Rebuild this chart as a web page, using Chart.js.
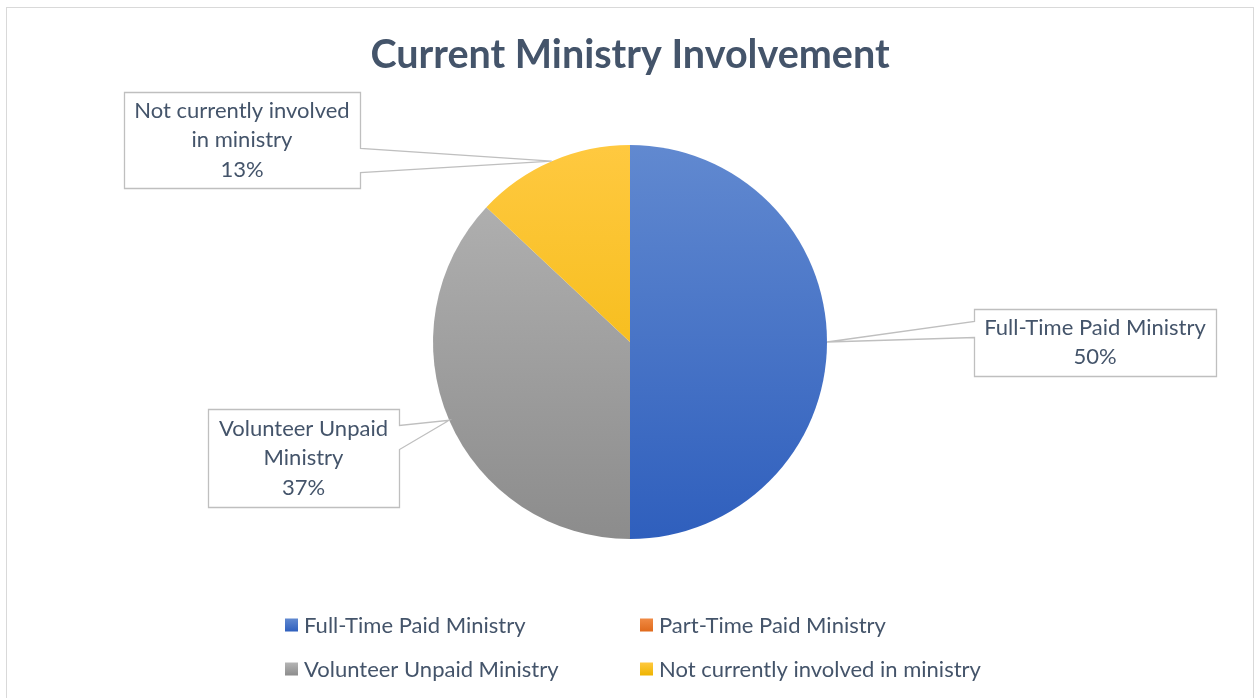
<!DOCTYPE html>
<html>
<head>
<meta charset="utf-8">
<script src="https://cdn.jsdelivr.net/npm/chart.js@4"></script>
<style>
    html, body { margin: 0; padding: 0; background: #fff; }
    canvas { display: block; }
</style>
</head>
<body>
<canvas id="ministryChart" width="1254" height="698"></canvas>
<script>
// Данные диаграммы
const categories = ['Full-Time Paid Ministry', 'Part-Time Paid Ministry', 'Volunteer Unpaid Ministry', 'Not currently involved in ministry'];
const shares = [50, 0, 37, 13];
// Переносы строк в выносках
const calloutLines = [['Full-Time Paid Ministry'], [], ['Volunteer Unpaid', 'Ministry'], ['Not currently involved', 'in ministry']];

// Цвета (верх / низ градиента)
const sliceColors = [
    ['#6189d0', '#2f5fbd'],
    ['#f08a44', '#e06a1c'],
    ['#b5b5b5', '#8c8c8c'],
    ['#ffc940', '#eeb400']
];
const textColor = '#44546A';
const fontFamily = 'Lato, "Open Sans", sans-serif';

// Положение выносок: рамка и точки выреза на стороне, обращённой к круговой
const calloutBoxes = [
    { x: 974, y: 309, w: 242, h: 67, side: 'left', y1: 321, y2: 337 },
    null,
    { x: 208, y: 409, w: 191, h: 98, side: 'right', y1: 425, y2: 449 },
    { x: 124, y: 92, w: 236, h: 96, side: 'right', y1: 148, y2: 172 }
];

function sliceGradient(ctx, index, top, bottom) {
    const g = ctx.createLinearGradient(0, top, 0, bottom);
    g.addColorStop(0, sliceColors[index][0]);
    g.addColorStop(1, sliceColors[index][1]);
    return g;
}

const framePlugin = {
    id: 'frame',
    beforeDraw(chart) {
        const ctx = chart.ctx;
        ctx.save();
        ctx.fillStyle = '#fff';
        ctx.fillRect(0, 0, chart.width, chart.height);
        ctx.strokeStyle = '#d9d9d9';
        ctx.lineWidth = 1;
        ctx.strokeRect(6.5, 7.5, 1247, 700);
        ctx.restore();
    }
};

const calloutPlugin = {
    id: 'callouts',
    afterDatasetsDraw(chart) {
        const ctx = chart.ctx;
        const meta = chart.getDatasetMeta(0);
        const total = shares.reduce((a, b) => a + b, 0);
        ctx.save();
        meta.data.forEach(function(arc, i) {
            const box = calloutBoxes[i];
            if (!box || !shares[i]) return;
            const p = arc.getProps(['x', 'y', 'startAngle', 'endAngle', 'outerRadius'], true);
            const mid = (p.startAngle + p.endAngle) / 2;
            const ax = p.x + Math.cos(mid) * p.outerRadius;
            const ay = p.y + Math.sin(mid) * p.outerRadius;
            const L = box.x + 0.5, T = box.y + 0.5, R = box.x + box.w + 0.5, B = box.y + box.h + 0.5;

            ctx.beginPath();
            if (box.side === 'right') {
                ctx.moveTo(L, T);
                ctx.lineTo(R, T);
                ctx.lineTo(R, box.y1 + 0.5);
                ctx.lineTo(ax, ay);
                ctx.lineTo(R, box.y2 + 0.5);
                ctx.lineTo(R, B);
                ctx.lineTo(L, B);
            } else {
                ctx.moveTo(L, T);
                ctx.lineTo(R, T);
                ctx.lineTo(R, B);
                ctx.lineTo(L, B);
                ctx.lineTo(L, box.y2 + 0.5);
                ctx.lineTo(ax, ay);
                ctx.lineTo(L, box.y1 + 0.5);
            }
            ctx.closePath();
            ctx.fillStyle = '#fff';
            ctx.fill();
            ctx.strokeStyle = '#bfbfbf';
            ctx.lineWidth = 1.3;
            ctx.stroke();

            const lines = calloutLines[i].concat([Math.round(shares[i] / total * 100) + '%']);
            const lh = 29.5;
            const cx = box.x + box.w / 2;
            const startY = box.y + box.h / 2 - (lines.length - 1) * lh / 2;
            ctx.fillStyle = textColor;
            ctx.font = '22px ' + fontFamily;
            ctx.textAlign = 'center';
            ctx.textBaseline = 'middle';
            lines.forEach(function(t, k) {
                ctx.fillText(t, cx, startY + k * lh);
            });
        });
        ctx.restore();
    }
};

// Легенда в две колонки
const legendPlugin = {
    id: 'gridLegend',
    afterDraw(chart) {
        const ctx = chart.ctx;
        const cols = [285, 640];
        const rows = [625, 669];
        const size = 13;
        ctx.save();
        ctx.font = '22px ' + fontFamily;
        ctx.textAlign = 'left';
        ctx.textBaseline = 'middle';
        categories.forEach(function(name, i) {
            const x = cols[i % 2];
            const y = rows[Math.floor(i / 2)];
            ctx.fillStyle = sliceGradient(ctx, i, y - size / 2, y + size / 2);
            ctx.fillRect(x, y - size / 2, size, size);
            ctx.fillStyle = textColor;
            ctx.fillText(name, x + size + 6, y + 1);
        });
        ctx.restore();
    }
};

new Chart(document.getElementById('ministryChart'), {
    type: 'pie',
    data: {
        labels: categories,
        datasets: [{
            data: shares,
            backgroundColor: function(context) {
                const area = context.chart.chartArea;
                if (!area) return sliceColors[context.dataIndex][0];
                const cy = (area.top + area.bottom) / 2;
                const r = Math.min(area.right - area.left, area.bottom - area.top) / 2;
                return sliceGradient(context.chart.ctx, context.dataIndex, cy - r, cy + r);
            },
            borderWidth: 0
        }]
    },
    options: {
        responsive: false,
        animation: false,
        devicePixelRatio: 1,
        layout: {
            padding: { top: 0, bottom: 159, left: 200, right: 194 }
        },
        plugins: {
            legend: { display: false },
            tooltip: { enabled: false },
            title: {
                display: true,
                text: 'Current Ministry Involvement',
                color: textColor,
                font: { family: fontFamily, size: 39.5, weight: 'bold', lineHeight: 1.2 },
                padding: { top: 32, bottom: 65.6 }
            }
        }
    },
    plugins: [framePlugin, calloutPlugin, legendPlugin]
});
</script>
</body>
</html>
